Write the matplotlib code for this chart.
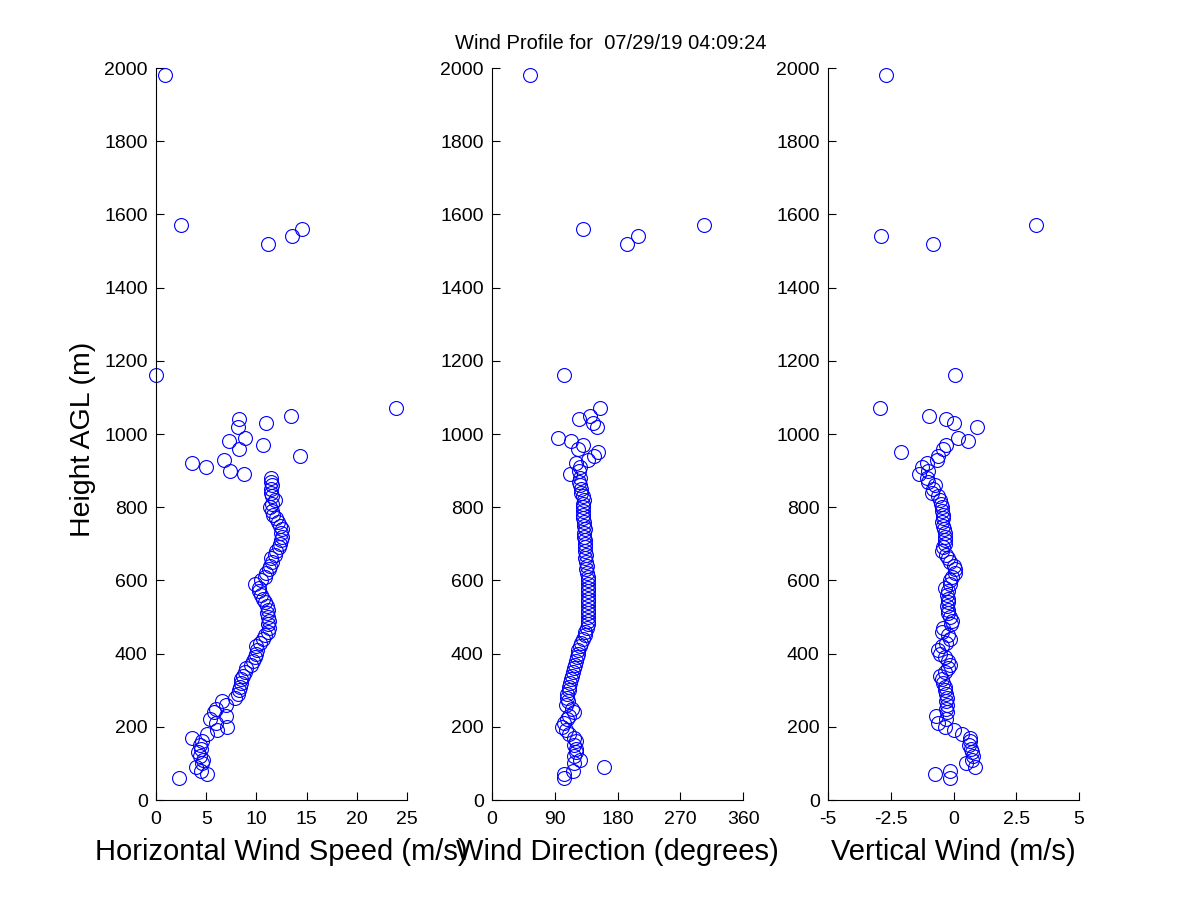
import numpy as np
import matplotlib
matplotlib.use('Agg')
import matplotlib.pyplot as plt

plt.rcParams['font.family'] = ['Liberation Sans', 'DejaVu Sans']

# heights of the range gates (m AGL)
heights = list(range(60, 890, 10)) + [890, 900, 910, 920, 930, 940, 950, 960, 970, 980, 990,
                                       1020, 1030, 1040, 1050, 1070, 1160, 1520, 1540, 1560, 1570, 1980]

# horizontal wind speed (m/s)
speed = [2.3, 5.1, 4.5, 4.0, 4.6, 4.7, 4.4, 4.2, 4.5, 4.4,
         4.6, 3.6, 5.1, 6.1, 7.1, 6.0, 5.4, 7.0, 5.8, 6.0,
         7.0, 6.6, 7.9, 8.2, 8.3, 8.4, 8.5, 8.5, 8.7, 8.9,
         9.0, 9.5, 9.7, 9.9, 10.0, 10.1, 10.0, 10.4, 10.7, 10.9,
         11.2, 11.3, 11.2, 11.3, 11.2, 11.1, 11.2, 11.1, 10.9, 10.7,
         10.5, 10.3, 10.3, 9.9, 10.5, 10.9, 11.0, 11.3, 11.4, 11.6,
         11.5, 11.9, 12.0, 12.2, 12.3, 12.4, 12.5, 12.4, 12.5, 12.3,
         12.1, 12.0, 11.7, 11.6, 11.4, 11.6, 11.9, 11.6, 11.5, 11.5,
         11.6, 11.5, 11.5,
         8.8, 7.4, 5.0, 3.6, 6.8, 14.3, np.nan, 8.3, 10.7, 7.3, 8.9,
         8.2, 11.0, 8.3, 13.4, 23.9, 0.0, 11.2, 13.5, 14.5, 2.5, 0.9]

# wind direction (degrees)
direction = [103, 103, 116, 160, 117, 126, 118, 121, 121, 118,
             120, 117, 110, 106, 101, 103, 107, 110, 118, 115,
             106, 109, 108, 107, 110, 111, 112, 113, 115, 116,
             118, 119, 121, 122, 123, 124, 126, 128, 131, 133,
             134, 136, 137, 137, 138, 138, 137, 138, 137, 138,
             138, 137, 138, 137, 138, 137, 136, 135, 136, 135,
             134, 135, 134, 133, 133, 133, 132, 132, 133, 132,
             132, 131, 131, 130, 131, 131, 132, 130, 128, 127,
             126, 125, 126,
             112, 125, 126, 121, 137, 146, 152, 124, 131, 114, 95,
             150, 145, 125, 140, 155, 103, 194, 209, 131, 304, 55]

# vertical wind (m/s)
vertical = [-0.15, -0.75, -0.15, 0.85, 0.5, 0.72, 0.78, 0.72, 0.7, 0.6,
            0.65, 0.65, 0.33, 0.0, -0.35, -0.6, -0.3, -0.7, -0.27, -0.3,
            -0.27, -0.3, -0.27, -0.3, -0.35, -0.35, -0.4, -0.45, -0.55, -0.35,
            -0.2, -0.15, -0.2, -0.35, -0.55, -0.6, -0.45, -0.3, -0.14, -0.2,
            -0.45, -0.4, -0.1, -0.07, -0.15, -0.2, -0.2, -0.25, -0.2, -0.2,
            -0.25, -0.2, -0.35, -0.15, -0.14, -0.07, 0.05, 0.06, 0.0, -0.15,
            -0.2, -0.3, -0.45, -0.4, -0.35, -0.35, -0.33, -0.35, -0.38, -0.4,
            -0.45, -0.42, -0.43, -0.45, -0.47, -0.5, -0.55, -0.6, -0.87, -0.8,
            -0.74, -1.0, -1.05,
            -1.36, -1.0, -1.27, -1.05, -0.67, -0.6, -2.1, -0.4, -0.3, 0.59, 0.17,
            0.95, 0.0, -0.3, -0.96, -2.93, 0.05, -0.8, -2.9, np.nan, 3.3, -2.7]

xlabels = ['Horizontal Wind Speed (m/s)', 'Wind Direction (degrees)', 'Vertical Wind (m/s)']
xlims = [(0, 25), (0, 360), (-5, 5)]
xticks = [[0, 5, 10, 15, 20, 25], [0, 90, 180, 270, 360], [-5, -2.5, 0, 2.5, 5]]
xticklabels = [['0', '5', '10', '15', '20', '25'], ['0', '90', '180', '270', '360'],
               ['-5', '-2.5', '0', '2.5', '5']]
yticks = list(range(0, 2001, 200))

fig = plt.figure(figsize=(12, 9), dpi=100)
lefts = [0.13, 0.41, 0.69]
series = [speed, direction, vertical]

for i in range(3):
    ax = fig.add_axes([lefts[i], 0.1111, 0.2092, 0.8133])
    ax.plot(series[i], heights, linestyle='none', marker='o', markersize=10,
            markerfacecolor='none', markeredgecolor='#0000ff', markeredgewidth=0.8,
            clip_on=False)
    ax.set_xlim(*xlims[i])
    ax.set_ylim(0, 2000)
    ax.set_xticks(xticks[i])
    ax.set_xticklabels(xticklabels[i])
    ax.set_yticks(yticks)
    ax.spines['top'].set_visible(False)
    ax.spines['right'].set_visible(False)
    ax.tick_params(direction='in', length=6, width=0.8, labelsize=14)
    ax.tick_params(axis='x', pad=8)
    ax.tick_params(axis='y', pad=6)
    ax.set_xlabel(xlabels[i], fontsize=21, labelpad=7)
    if i == 0:
        ax.set_ylabel('Height AGL (m)', fontsize=20.5, labelpad=8)
        ax.yaxis.set_label_coords(-0.24, 0.493)

fig.text(0.509, 0.952, 'Wind Profile for  07/29/19 04:09:24', ha='center', va='center', fontsize=14.5)

fig.savefig('out.png', dpi=100)
